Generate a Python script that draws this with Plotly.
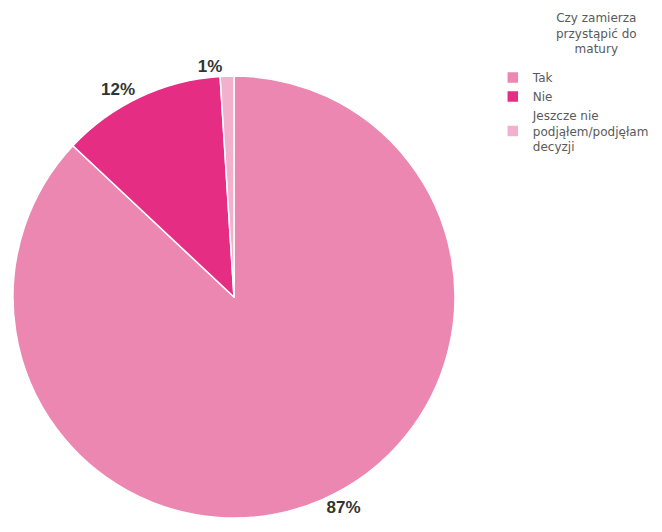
import plotly.graph_objects as go

labels = ["Tak", "Nie", "Jeszcze nie<br>podjąłem/podjęłam<br>decyzji"]
values = [87, 12, 1]
colors = ["#EC87B2", "#E52D84", "#F2B0CC"]
legend_title = "Czy zamierza<br>przystąpić do<br>matury"

W, H = 662, 532
cx, cy, r = 224, 289, 222  # target pie centre (px from top-left) and radius

fig = go.Figure(go.Pie(
    labels=labels,
    values=values,
    sort=False,
    direction="clockwise",
    rotation=0,
    marker=dict(colors=colors, line=dict(color="white", width=1.5)),
    textinfo="percent",
    texttemplate="<b>%{percent:.0%}</b>",
    textposition="outside",
    outsidetextfont=dict(family="Liberation Sans, Arial", size=17, color="#333333"),
    domain=dict(x=[(cx - r) / W, (cx + r) / W], y=[(H - cy - r) / H, (H - cy + r) / H]),
    hoverinfo="label+percent",
))

fig.add_annotation(
    text=legend_title, x=588 / W, y=1 - 1 / H, xref="paper", yref="paper",
    xanchor="center", yanchor="top", align="center", showarrow=False,
    font=dict(family="DejaVu Sans", size=12, color="#5a5a5a"),
)

fig.update_layout(
    width=W, height=H,
    margin=dict(l=0, r=0, t=0, b=0),
    paper_bgcolor="white",
    plot_bgcolor="white",
    font=dict(family="DejaVu Sans", size=12, color="#5a5a5a"),
    legend=dict(
        x=484 / W, xanchor="left", y=1 - 55 / H, yanchor="top",
        font=dict(family="DejaVu Sans", size=12, color="#5a5a5a"),
        tracegroupgap=0, itemwidth=30,
    ),
)

fig.write_html("out.html")
